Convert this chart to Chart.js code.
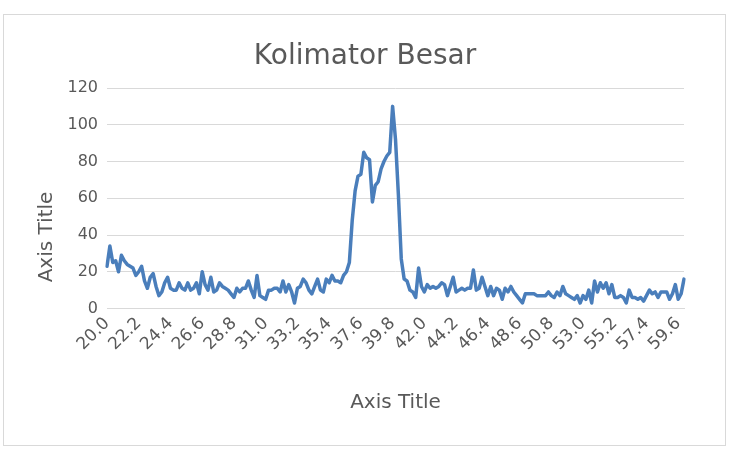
<!DOCTYPE html>
<html>
<head>
<meta charset="utf-8">
<script src="https://cdn.jsdelivr.net/npm/chart.js@4.4.1/dist/chart.umd.min.js"></script>
<style>
  html, body { margin: 0; padding: 0; background: #fff; }
  #wrap { width: 730px; height: 452px; }
</style>
</head>
<body>
<div id="wrap"><canvas id="kolimatorChart" width="730" height="452"></canvas></div>
<script>
// Categories (x labels), step 0.2
const categories = [
  "20.0","20.2","20.4","20.6","20.8","21.0","21.2","21.4","21.6","21.8",
  "22.0","22.2","22.4","22.6","22.8","23.0","23.2","23.4","23.6","23.8",
  "24.0","24.2","24.4","24.6","24.8","25.0","25.2","25.4","25.6","25.8",
  "26.0","26.2","26.4","26.6","26.8","27.0","27.2","27.4","27.6","27.8",
  "28.0","28.2","28.4","28.6","28.8","29.0","29.2","29.4","29.6","29.8",
  "30.0","30.2","30.4","30.6","30.8","31.0","31.2","31.4","31.6","31.8",
  "32.0","32.2","32.4","32.6","32.8","33.0","33.2","33.4","33.6","33.8",
  "34.0","34.2","34.4","34.6","34.8","35.0","35.2","35.4","35.6","35.8",
  "36.0","36.2","36.4","36.6","36.8","37.0","37.2","37.4","37.6","37.8",
  "38.0","38.2","38.4","38.6","38.8","39.0","39.2","39.4","39.6","39.8",
  "40.0","40.2","40.4","40.6","40.8","41.0","41.2","41.4","41.6","41.8",
  "42.0","42.2","42.4","42.6","42.8","43.0","43.2","43.4","43.6","43.8",
  "44.0","44.2","44.4","44.6","44.8","45.0","45.2","45.4","45.6","45.8",
  "46.0","46.2","46.4","46.6","46.8","47.0","47.2","47.4","47.6","47.8",
  "48.0","48.2","48.4","48.6","48.8","49.0","49.2","49.4","49.6","49.8",
  "50.0","50.2","50.4","50.6","50.8","51.0","51.2","51.4","51.6","51.8",
  "52.0","52.2","52.4","52.6","52.8","53.0","53.2","53.4","53.6","53.8",
  "54.0","54.2","54.4","54.6","54.8","55.0","55.2","55.4","55.6","55.8",
  "56.0","56.2","56.4","56.6","56.8","57.0","57.2","57.4","57.6","57.8",
  "58.0","58.2","58.4","58.6","58.8","59.0","59.2","59.4","59.6","59.8",
  "60.0"
];

// Counts
const counts = [
  23, 34, 25, 26, 20, 29, 26, 24, 23, 22,
  18, 20, 23, 15, 11, 17, 19, 12, 7, 9,
  14, 17, 11, 10, 10, 14, 11, 10, 14, 10,
  11, 14, 8, 20, 13, 10, 17, 9, 10, 14,
  12, 11, 10, 8, 6, 11, 9, 11, 11, 15,
  10, 6, 18, 7, 6, 5, 10, 10, 11, 11,
  9, 15, 9, 13, 9, 3, 11, 12, 16, 14,
  10, 8, 12, 16, 10, 9, 16, 14, 18, 15,
  15, 14, 18, 20, 25, 48, 64, 72, 73, 85,
  82, 81, 58, 67, 69, 76, 80, 83, 85, 110,
  92, 62, 27, 16, 15, 10, 9, 6, 22, 12,
  9, 13, 11, 12, 11, 12, 14, 13, 7, 12,
  17, 9, 10, 11, 10, 11, 11, 21, 10, 11,
  17, 12, 7, 12, 7, 11, 10, 5, 11, 9,
  12, 9, 7, 5, 3, 8, 8, 8, 8, 7,
  7, 7, 7, 9, 7, 6, 9, 7, 12, 8,
  7, 6, 5, 7, 3, 7, 5, 10, 3, 15,
  9, 14, 11, 14, 8, 13, 6, 6, 7, 6,
  3, 10, 6, 6, 5, 6, 4, 7, 10, 8,
  9, 6, 9, 9, 9, 5, 8, 13, 5, 8,
  16
];

// Y axis ticks
const yTicks = [0, 20, 40, 60, 80, 100, 120];

const chartTitle = 'Kolimator Besar';
const xTitle = 'Axis Title';
const yTitle = 'Axis Title';

const labelEvery = 11;
const textColor = '#595959';
const gridColor = '#d9d9d9';
const fontFamily = '"DejaVu Sans", sans-serif';

// Frame around the chart + chart title and y title (Excel puts them off-centre)
const excelDecor = {
    id: 'excelDecor',
    beforeDraw(chart) {
        const c = chart.ctx;
        c.save();
        c.fillStyle = '#ffffff';
        c.fillRect(0, 0, chart.width, chart.height);
        c.strokeStyle = gridColor;
        c.lineWidth = 1;
        c.strokeRect(3.5, 14.5, 722, 431);
        c.restore();
    },
    afterDraw(chart) {
        const c = chart.ctx;
        c.save();
        c.fillStyle = textColor;
        c.textAlign = 'center';
        c.textBaseline = 'middle';
        c.font = '28px ' + fontFamily;
        c.fillText(chartTitle, chart.width / 2, 57);

        c.font = '20px ' + fontFamily;
        c.translate(47, 237);
        c.rotate(-Math.PI / 2);
        c.fillText(yTitle, 0, 0);
        c.restore();
    }
};

const ctx = document.getElementById('kolimatorChart').getContext('2d');

new Chart(ctx, {
    type: 'line',
    data: {
        labels: categories,
        datasets: [{
            label: chartTitle,
            data: counts,
            borderColor: '#4a7ebb',
            borderWidth: 3.5,
            pointRadius: 0,
            tension: 0,
            fill: false,
            borderJoinStyle: 'round',
            borderCapStyle: 'round'
        }]
    },
    options: {
        responsive: false,
        animation: false,
        layout: {
            padding: { left: 8, right: 46, top: 88, bottom: 6 }
        },
        plugins: {
            legend: { display: false },
            tooltip: { enabled: false },
            title: { display: false }
        },
        scales: {
            x: {
                type: 'category',
                offset: false,
                grid: { display: false, drawTicks: false },
                border: { display: true, color: gridColor, width: 1 },
                ticks: {
                    autoSkip: false,
                    maxRotation: 45,
                    minRotation: 45,
                    padding: 5,
                    color: textColor,
                    font: { family: fontFamily, size: 17 },
                    callback: function (value, index) {
                        return index % labelEvery === 0 ? categories[index] : null;
                    }
                },
                title: {
                    display: true,
                    text: xTitle,
                    color: textColor,
                    font: { family: fontFamily, size: 20 },
                    padding: { top: 0, bottom: 31 }
                },
                afterFit: function (scale) {
                    scale.height = 137.5;
                }
            },
            y: {
                min: yTicks[0],
                max: yTicks[yTicks.length - 1],
                grid: { color: gridColor, lineWidth: 1, drawTicks: false },
                border: { display: false },
                afterBuildTicks: function (scale) {
                    scale.ticks = yTicks.map(v => ({ value: v }));
                },
                ticks: {
                    padding: 9,
                    color: textColor,
                    font: { family: fontFamily, size: 16 }
                },
                afterFit: function (scale) {
                    scale.width = 99;
                }
            }
        }
    },
    plugins: [excelDecor]
});
</script>
</body>
</html>
